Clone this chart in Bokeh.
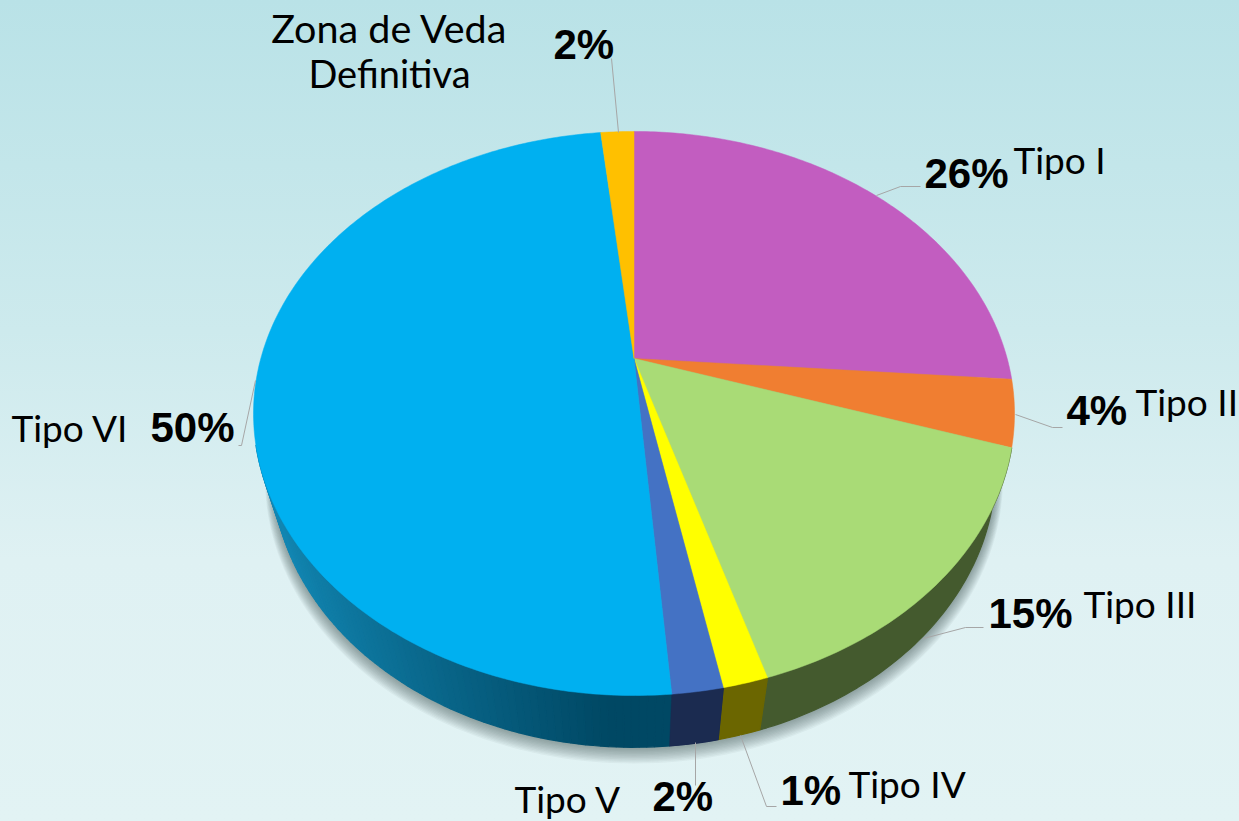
import math
from bokeh.plotting import figure
from bokeh.embed import file_html
from bokeh.resources import INLINE
from bokeh.core.properties import value

# ---- data (clockwise from 12 o'clock) ----
categories = ["Tipo I", "Tipo II", "Tipo III", "Tipo IV", "Tipo V", "Tipo VI", "Zona de Veda Definitiva"]
shares = [26.2, 3.8, 15.3, 1.6, 1.8, 49.6, 1.7]
pct_labels = ["26%", "4%", "15%", "1%", "2%", "50%", "2%"]

# ---- style ----
top_colors = ["#c25dc0", "#f07e31", "#a9db76", "#ffff00", "#4472c4", "#00b0f0", "#ffc000"]
wall_colors = ["#6a3269", "#85451b", "#445a2e", "#6b6600", "#1b2b50", None, "#8a6800"]

# projection of the disc (pixel space, y down)
CX, B, A, C, Q = 633.5, 358.0, -201.5, 373.2, 0.195
R, E = 0.05, 79.0
VISIBLE_WALL = -0.3
TEXT_DY = -16


def proj(theta, r=1.0, bottom=False):
    u, v = r * math.sin(theta), r * math.cos(theta)
    w = 1 + Q * v + (R if bottom else 0)
    return CX + C * u / w, (B + A * v + (E if bottom else 0)) / w


def lerp(a, b, t):
    return tuple(int(round(x + (y - x) * t)) for x, y in zip(a, b))


W, H = 1239, 821
p = figure(width=W, height=H, x_range=(0, W), y_range=(H, 0), output_backend="svg",
           toolbar_location=None, min_border=0, outline_line_color=None)
p.axis.visible = False
p.grid.visible = False
p.background_fill_alpha = 0
p.border_fill_alpha = 0

# soft shadow under the disc
full = [2 * math.pi * i / 240 for i in range(241)]
for k in range(12):
    grow = 1 + (12 - k) * 0.0016
    pts = [(x, y) for x, y in (proj(t, grow, True) for t in full)]
    p.patch([q[0] for q in pts], [q[1] + (12 - k) * 0.7 for q in pts], fill_color="#3f5556", fill_alpha=0.05, line_alpha=0)

# side wall
edges = [0.0]
for s in shares:
    edges.append(edges[-1] + s)
total = edges[-1]
wx, wy, wc = [], [], []
for i, s in enumerate(shares):
    a0, a1 = edges[i] / total * 2 * math.pi, edges[i + 1] / total * 2 * math.pi
    n = max(2, int((a1 - a0) / math.radians(1.0)))
    if wall_colors[i] is not None:
        ts = [a0 + (a1 - a0) * j / n for j in range(n + 1)]
        ts = [t for t in ts if math.cos(t) <= VISIBLE_WALL]
        if len(ts) > 1:
            upper = [proj(t) for t in ts]
            lower = [proj(t, 1, True) for t in reversed(ts)]
            wx.append([q[0] for q in upper + lower])
            wy.append([q[1] for q in upper + lower])
            wc.append(wall_colors[i])
        continue
    for j in range(n):
        t0 = a0 + (a1 - a0) * j / n
        t1 = a0 + (a1 - a0) * (j + 1) / n
        if math.cos((t0 + t1) / 2) > VISIBLE_WALL:
            continue
        pa, pb = proj(t0), proj(t1)
        pc, pd = proj(t1, 1, True), proj(t0, 1, True)
        wx.append([pa[0], pb[0], pc[0], pd[0]])
        wy.append([pa[1], pb[1], pc[1], pd[1]])
        f = min(1, max(0, (pa[0] - 275) / (610 - 275)))
        wc.append("#%02x%02x%02x" % lerp((18, 134, 178), (0, 72, 100), f ** 0.9))
p.patches(wx, wy, fill_color=wc, line_color=wc, line_width=1.2)
# the dark Tipo V strip is redrawn over the neighbouring blue strips' strokes
i = 4
a0, a1 = edges[i] / total * 2 * math.pi, edges[i + 1] / total * 2 * math.pi
ts = [a0 + (a1 - a0) * j / 6 for j in range(7)]
pts = [proj(t) for t in ts] + [proj(t, 1, True) for t in reversed(ts)]
p.patch([q[0] for q in pts], [q[1] for q in pts], fill_color=wall_colors[i], line_color=wall_colors[i], line_width=0.5)

# top face
for i, s in enumerate(shares):
    a0, a1 = edges[i] / total * 2 * math.pi, edges[i + 1] / total * 2 * math.pi
    n = max(4, int((a1 - a0) / math.radians(0.75)))
    pts = [proj(a0 + (a1 - a0) * j / n) for j in range(n + 1)]
    pts.append(proj(0, 0))
    p.patch([q[0] for q in pts], [q[1] for q in pts], fill_color=top_colors[i], line_color=top_colors[i], line_width=0.5)

# leader lines
leaders = [
    ([920, 900, 876], [186, 186, 195]),
    ([1062, 1052, 1015], [427, 427, 414]),
    ([983, 965, 923], [627, 627, 638]),
    ([776, 766, 740], [806, 806, 735]),
    ([695, 695], [785, 742]),
    ([238, 241, 255], [445, 445, 380]),
    ([611, 618], [58, 132]),
]
for lx, ly in leaders:
    p.line(lx, ly, line_color="#a6a6a6", line_width=1)

# texts
name_pos = [(1013, 175), (1135, 417), (1083, 619), (848, 799), (514, 814), (11, 443)]
pct_pos = [(924, 189), (1066, 426), (988, 629), (780, 806), (652, 812), (150, 443), (553, 60)]
for name, (x, y) in zip(categories[:6], name_pos):
    p.text([x], [y + TEXT_DY], text=[name], text_font=value("Lato"), text_font_size="37px", text_color="#000000",
           text_baseline="alphabetic", text_align="left")
zona = categories[6].split(" Definitiva")[0]
for txt, y, fs in ((zona, 43, "39.5px"), ("Definitiva", 88, "38px")):
    p.text([389], [y + TEXT_DY], text=[txt], text_font=value("Lato"), text_font_size=fs, text_color="#000000",
           text_baseline="alphabetic", text_align="center")
for lab, (x, y) in zip(pct_labels, pct_pos):
    p.text([x], [y + TEXT_DY], text=[lab], text_font=value("Liberation Sans"), text_font_style="bold", text_font_size="42px",
           text_color="#000000", text_baseline="alphabetic", text_align="left")

html = file_html(p, INLINE)
css = ("<style>html{height:821px;overflow:hidden;background:linear-gradient(180deg,#b9e2e7 0px,#cdeaed 330px,"
       "#dff1f3 560px,#e2f3f4 821px);}body{margin:0;}</style>")
html = html.replace("</head>", css + "</head>", 1)
open("out.html", "w").write(html)
